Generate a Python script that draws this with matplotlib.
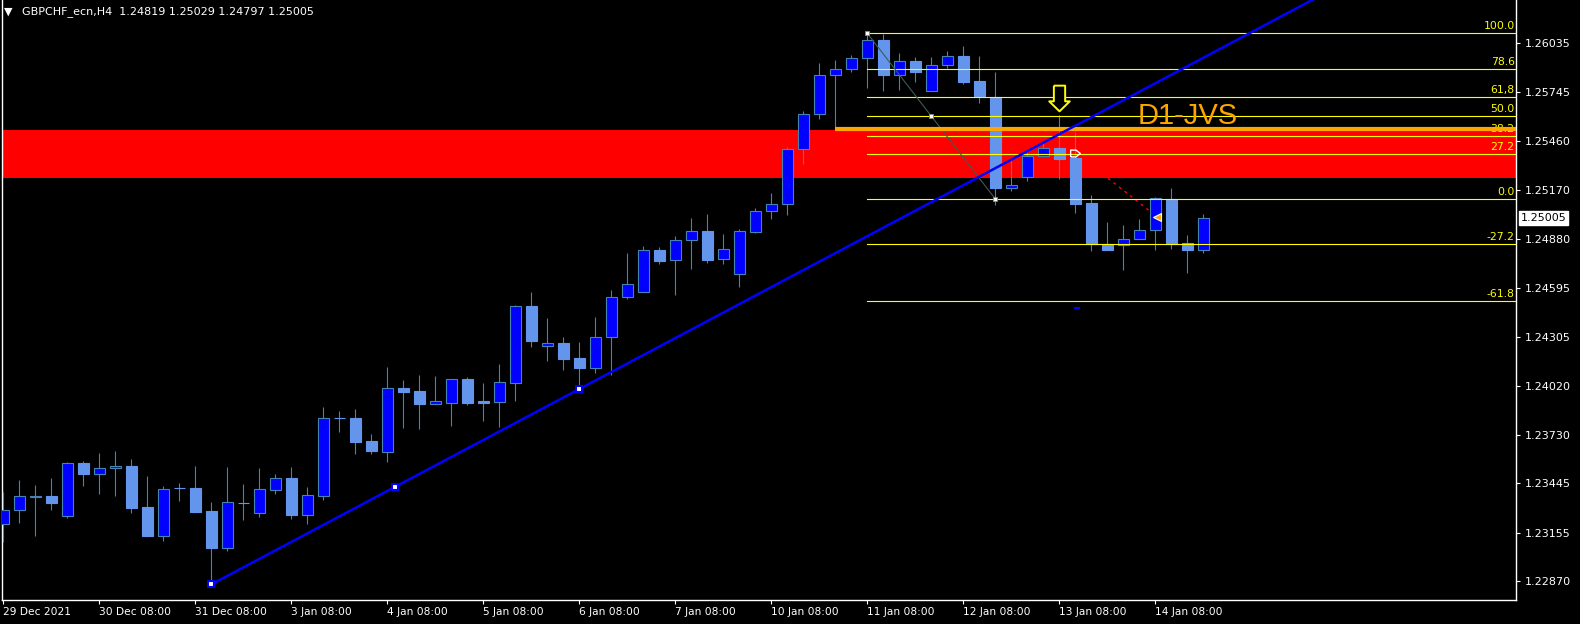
# GBPCHF H4 candlestick chart in MT4 dark style, with fib levels, trendline and zone
import numpy as np
import matplotlib
matplotlib.use("Agg")
import matplotlib.pyplot as plt
from matplotlib.path import Path
from matplotlib.transforms import blended_transform_factory

# H4 candles (index 0 = 29 Dec 08:00)
opens = [1.23205, 1.23287, 1.23368, 1.23371, 1.23256, 1.23565, 1.23502, 1.23534, 1.23548, 1.23307,
         1.23138, 1.23417, 1.23418, 1.23283, 1.23068, 1.23332, 1.23273, 1.23408, 1.23477, 1.23262,
         1.23373, 1.23828, 1.23828, 1.23695, 1.23632, 1.24004, 1.23988, 1.23914, 1.23920, 1.24057,
         1.23928, 1.23926, 1.24037, 1.24488, 1.24251, 1.24270, 1.24182, 1.24125, 1.24304, 1.24539,
         1.24568, 1.24815, 1.24756, 1.24874, 1.24927, 1.24762, 1.24674, 1.24924, 1.25048, 1.25085,
         1.25409, 1.25614, 1.25843, 1.25879, 1.25943, 1.26051, 1.25847, 1.25926, 1.25749, 1.25902,
         1.25955, 1.25810, 1.25718, 1.25183, 1.25244, 1.25369, 1.25415, 1.25358, 1.25093, 1.24852,
         1.24845, 1.24880, 1.24933, 1.25115, 1.24858, 1.24819]
highs = [1.23393, 1.23464, 1.23434, 1.23475, 1.23571, 1.23577, 1.23622, 1.23634, 1.23589, 1.23489,
         1.23430, 1.23446, 1.23548, 1.23336, 1.23542, 1.23442, 1.23536, 1.23501, 1.23542, 1.23424,
         1.23894, 1.23871, 1.23883, 1.23736, 1.24129, 1.24053, 1.24082, 1.24077, 1.24057, 1.24069,
         1.24035, 1.24147, 1.24494, 1.24570, 1.24417, 1.24306, 1.24276, 1.24423, 1.24582, 1.24799,
         1.24840, 1.24835, 1.24899, 1.25005, 1.25028, 1.24911, 1.24939, 1.25064, 1.25152, 1.25422,
         1.25634, 1.25916, 1.25933, 1.25963, 1.26090, 1.26086, 1.25973, 1.25949, 1.25949, 1.25984,
         1.26017, 1.25957, 1.25861, 1.25348, 1.25393, 1.25456, 1.25610, 1.25512, 1.25140, 1.24981,
         1.24964, 1.24999, 1.25128, 1.25181, 1.24905, 1.25029]
lows = [1.23099, 1.23215, 1.23138, 1.23289, 1.23244, 1.23432, 1.23385, 1.23373, 1.23273, 1.23138,
        1.23109, 1.23344, 1.23279, 1.22852, 1.23050, 1.23230, 1.23250, 1.23383, 1.23236, 1.23207,
        1.23348, 1.23747, 1.23618, 1.23618, 1.23571, 1.23771, 1.23767, 1.23914, 1.23784, 1.23906,
        1.23814, 1.23779, 1.23931, 1.24249, 1.24166, 1.24114, 1.24000, 1.24096, 1.24084, 1.24531,
        1.24568, 1.24736, 1.24554, 1.24707, 1.24742, 1.24736, 1.24601, 1.24915, 1.25001, 1.25024,
        1.25324, 1.25588, 1.25526, 1.25865, 1.25771, 1.25753, 1.25759, 1.25806, 1.25749, 1.25888,
        1.25794, 1.25682, 1.25080, 1.25165, 1.25224, 1.25369, 1.25236, 1.25036, 1.24811, 1.24819,
        1.24699, 1.24880, 1.24817, 1.24825, 1.24684, 1.24797]
closes = [1.23287, 1.23370, 1.23370, 1.23332, 1.23564, 1.23502, 1.23534, 1.23546, 1.23303, 1.23138,
          1.23411, 1.23417, 1.23279, 1.23068, 1.23334, 1.23332, 1.23411, 1.23475, 1.23260, 1.23376,
          1.23828, 1.23828, 1.23689, 1.23636, 1.24004, 1.23983, 1.23914, 1.23928, 1.24057, 1.23920,
          1.23916, 1.24040, 1.24486, 1.24284, 1.24269, 1.24178, 1.24125, 1.24304, 1.24539, 1.24615,
          1.24815, 1.24754, 1.24874, 1.24927, 1.24760, 1.24821, 1.24927, 1.25044, 1.25085, 1.25409,
          1.25614, 1.25843, 1.25879, 1.25943, 1.26051, 1.25845, 1.25926, 1.25865, 1.25902, 1.25955,
          1.25806, 1.25722, 1.25183, 1.25197, 1.25367, 1.25415, 1.25353, 1.25089, 1.24852, 1.24819,
          1.24880, 1.24933, 1.25121, 1.24852, 1.24817, 1.25005]

x_tick_pos = [0, 6, 12, 18, 24, 30, 36, 42, 48, 54, 60, 66, 72]
x_tick_labels = ["29 Dec 2021", "30 Dec 08:00", "31 Dec 08:00", "3 Jan 08:00", "4 Jan 08:00",
                 "5 Jan 08:00", "6 Jan 08:00", "7 Jan 08:00", "10 Jan 08:00", "11 Jan 08:00",
                 "12 Jan 08:00", "13 Jan 08:00", "14 Jan 08:00"]
y_ticks = [1.26035, 1.25745, 1.25460, 1.25170, 1.24880, 1.24595, 1.24305, 1.24020,
           1.23730, 1.23445, 1.23155, 1.22870]

# fibonacci retracement (anchor bars and prices)
fib_start, fib_end = 54, 62
fib_high, fib_low = 1.26090, 1.25117
fib_ratios = [1.0, 0.786, 0.618, 0.5, 0.382, 0.272, 0.0, -0.272, -0.618]
fib_labels = ["100.0", "78.6", "61,8", "50.0", "38.2", "27.2", "0.0", "-27.2", "-61.8"]

# trendline anchors
trend_x = [13, 36]
trend_y = [1.22852, 1.24000]

# supply zone and level
zone_bottom, zone_top = 1.25240, 1.25521
level_start, level_price = 52, 1.25526

# trade markers and annotations
arrow_bar, arrow_price = 66, 1.25711
open_bar, open_price = 67, 1.25389
close_bar, close_price = 72.1, 1.25013
stop_bar, stop_price = 67.1, 1.24476
label_bar, label_price = 70.9, 1.25557

header = "GBPCHF_ecn,H4  1.24819 1.25029 1.24797 1.25005"
last_price = 1.25005

W, H = 1580, 624
BULL, BEAR, WICK = "#0000FF", "#6495ED", "#4682B4"

fig = plt.figure(figsize=(W / 100, H / 100), dpi=100, facecolor="black")
ax = fig.add_axes([2.3 / W, 24 / H, (1516 - 2.3) / W, 600 / H])
ax.set_facecolor("black")

o = np.array(opens)
c = np.array(closes)
x = np.arange(len(o))
up = c > o

ax.axhspan(zone_bottom, zone_top, color="#FF0000", lw=0, zorder=1)

ax.vlines(x, lows, highs, colors=WICK, lw=0.8, zorder=3)
ax.bar(x[up], (c - o)[up], bottom=o[up], width=0.67, color=BULL, edgecolor=WICK, lw=0.8, zorder=4)
ax.bar(x[~up], (o - c)[~up], bottom=c[~up], width=0.67, color=BEAR, edgecolor=BEAR, lw=0.8, zorder=4)

xmin, xmax = -0.06, 94.54
ax.set_xlim(xmin, xmax)
ax.set_ylim(1.227603, 1.262859)

# fib levels
trans = blended_transform_factory(ax.transAxes, ax.transData)
for ratio, lab in zip(fib_ratios, fib_labels):
    lvl = fib_low + ratio * (fib_high - fib_low)
    ax.plot([fib_start, xmax], [lvl, lvl], color="#FFFF00", lw=0.8, zorder=5)
    ax.annotate(lab, (1.0, lvl), xycoords=trans, xytext=(-1, 1.5), textcoords="offset points",
                ha="right", va="bottom", color="#FFFF00", fontsize=7.8, zorder=5)
fib_mid = (fib_high + fib_low) / 2
ax.plot([fib_start, fib_end], [fib_high, fib_low], color="#3d5c55", lw=0.8, zorder=5)
ax.plot([fib_start, (fib_start + fib_end) / 2, fib_end], [fib_high, fib_mid, fib_low], "s",
        ms=3, mfc="white", mec="#888888", mew=0.6, zorder=6)

# orange level line drawn over the zone
ax.plot([level_start, xmax], [level_price, level_price], color="#FFA500", lw=3, zorder=6,
        solid_capstyle="butt")

# trendline ray
slope = (trend_y[1] - trend_y[0]) / (trend_x[1] - trend_x[0])
ax.plot([trend_x[0], xmax], [trend_y[0], trend_y[0] + slope * (xmax - trend_x[0])],
        color="#0000FF", lw=1.8, zorder=7)
ax.plot([trend_x[0], sum(trend_x) / 2, trend_x[1]], [trend_y[0], sum(trend_y) / 2, trend_y[1]],
        "s", ms=4.5, mfc="white", mec="#0000FF", mew=1.5, zorder=8)

# trade history: dotted line, open and close markers
ax.plot([open_bar, close_bar], [open_price, close_price], color="#FF0000", lw=1,
        ls=(0, (2, 3)), zorder=0.5)
house = Path([(-1, -0.7), (0.1, -0.7), (1, 0), (0.1, 0.7), (-1, 0.7), (-1, -0.7)])
ax.plot([open_bar], [open_price], marker=house, ms=7, mfc="none", mec="white", mew=1, zorder=8)
ax.plot([close_bar], [close_price], marker="<", ms=6, mfc="#FFA500", mec="white", mew=0.8, zorder=8)
ax.plot([stop_bar], [stop_price], marker="_", ms=5, color="#0000FF", mew=1.5, zorder=4)

# hollow down arrow
down_arrow = Path([(-0.44, 1), (0.44, 1), (0.44, -0.22), (0.8, -0.22), (0, -1),
                   (-0.8, -0.22), (-0.44, -0.22), (-0.44, 1)])
ax.plot([arrow_bar], [arrow_price], marker=down_arrow, ms=18.5, mfc="black", mec="#FFFF00",
        mew=1.4, zorder=8)

ax.text(label_bar, label_price, "D1-JVS", color="#FFA500", fontsize=21,
        family="Liberation Sans", ha="left", va="baseline", zorder=8)

# axes styling
for side in ["left", "bottom", "right"]:
    ax.spines[side].set_color("white")
    ax.spines[side].set_linewidth(1)
ax.spines["top"].set_visible(False)

ax.yaxis.tick_right()
ax.set_yticks(y_ticks)
ax.set_yticklabels([f"{v:.5f}" for v in y_ticks])
ax.tick_params(axis="y", colors="white", labelcolor="white", length=3, width=0.8,
               labelsize=8, pad=3)
ax.set_xticks(x_tick_pos)
ax.set_xticklabels(x_tick_labels)
ax.tick_params(axis="x", colors="white", labelcolor="white", length=3, width=0.8,
               labelsize=7.7, pad=2)
for t in ax.get_xticklabels():
    t.set_horizontalalignment("left")

# current price box
ax.annotate(f"{last_price:.5f}", (1.0, last_price), xycoords=trans, xytext=(3.5, 0),
            textcoords="offset points", ha="left", va="center", color="black", fontsize=8,
            bbox=dict(boxstyle="square,pad=0.15", fc="white", ec="white"), zorder=10)

# header
fig.text(8 / W, 1 - 12 / H, "\u25bc", color="white", fontsize=8, ha="center", va="center")
fig.text(22 / W, 1 - 12 / H, header, color="white", fontsize=8, ha="left", va="center")

fig.savefig("out.png", dpi=100, facecolor="black")
